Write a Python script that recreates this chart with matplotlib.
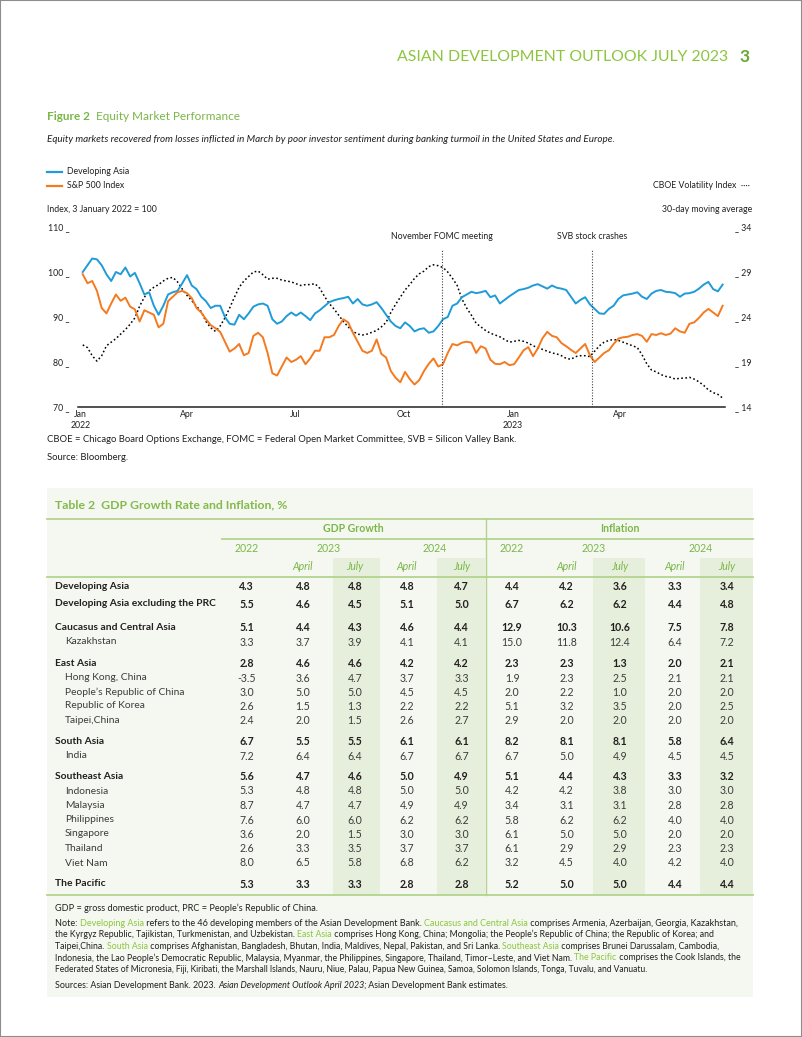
import matplotlib
matplotlib.use("Agg")
import matplotlib.pyplot as plt
from matplotlib.patches import Rectangle
from matplotlib.lines import Line2D
import pandas as pd

plt.rcParams['font.family'] = ['Lato', 'DejaVu Sans']

# ---- chart data (one value every 4 days) ----
dates = pd.date_range('2022-01-03', periods=136, freq='4D')

dev_asia = [100, 101.5, 103, 102.8, 101.5, 99.5, 98, 100, 99.5, 101,
            99, 99.8, 97.5, 95, 95.5, 92.5, 90.5, 92.5, 95, 95.5,
            95.8, 97.5, 99.3, 97, 96.2, 94.5, 93.5, 92, 92.5, 92.5,
            90, 88.5, 88.3, 90.5, 89.5, 90.8, 92.3, 92.8, 93, 92.5,
            89.5, 88.5, 89, 90.2, 91, 90.3, 91, 90.2, 89.3, 90.8,
            91.5, 92.4, 93.3, 93.7, 94, 94.2, 94.5, 93, 94, 92.8,
            92.5, 92.8, 93.3, 92, 90.5, 89, 88, 87.5, 88.8, 88,
            86.8, 87.3, 87.5, 86.5, 86.8, 88, 89.5, 90, 92.5, 93,
            94.4, 95, 95.6, 95.3, 95.5, 95.8, 94.4, 94.8, 93, 93.8,
            94.6, 95.3, 96, 96.2, 96.5, 97, 97.3, 96.8, 96.3, 97,
            96.5, 96.3, 96, 94.5, 93, 93.8, 94.4, 92.8, 91.8, 90.8,
            90.7, 91.8, 92.5, 94, 94.8, 95, 95.2, 95.5, 94.5, 94,
            95.2, 95.8, 96, 95.6, 95.5, 95.3, 94.5, 95.2, 95.3, 95.6,
            96.3, 97.2, 97.8, 96.2, 95.7, 97.2]

sp500 = [99.5, 97.5, 98, 95.8, 92, 90.8, 93, 95, 93.6, 94.3,
         92.3, 91.7, 89, 91.5, 91, 90.5, 87.7, 88.5, 93.5, 94.5,
         95.5, 95.8, 95.3, 94.2, 92, 91, 89.5, 88.2, 87.5, 86.7,
         84.5, 82.3, 83, 84, 81.5, 82, 85.8, 86.5, 85.5, 82,
         77.5, 77, 79, 81, 80, 80.5, 81.3, 79.5, 80.8, 82.5,
         82.5, 85.5, 85.5, 86, 88, 89.5, 88.8, 86.5, 84.5, 82.5,
         82, 82.5, 85, 81.8, 81, 78, 76.5, 75.5, 77.8, 76.2,
         75, 76, 78, 79.6, 80.8, 79, 79.5, 82, 84, 83.7,
         84.3, 84.5, 84.3, 82, 83.5, 83, 80.5, 79.6, 79.5, 80,
         79.3, 79.5, 81, 82.6, 83.3, 81.3, 83, 85.3, 86.7, 85.8,
         85.5, 84.2, 83.5, 82.7, 82, 83, 84, 81.5, 80, 81,
         82, 82.6, 84, 85.2, 85.5, 85.6, 86, 86.2, 85.8, 84.5,
         86.2, 86, 86.4, 86, 86.3, 87.5, 86.8, 86.5, 88.5, 88.8,
         89.8, 91, 91.8, 91, 90.2, 92.5]

vix_ma = [20.9, 20.6, 19.7, 19.1, 19.7, 20.8, 21.2, 21.6, 22.1, 22.6,
          23.2, 23.9, 25.2, 26.2, 26.9, 27.3, 27.6, 28, 28.3, 28.4,
          27.9, 27.1, 26.4, 25.8, 25.2, 24.6, 23.5, 22.8, 22.4, 23,
          23.9, 25, 26.2, 27.3, 28, 28.5, 29, 29.1, 28.7, 28.2,
          28.3, 28.3, 28.1, 28, 27.9, 27.7, 27.5, 27.6, 27.6, 27.7,
          27.2, 26.3, 25.5, 24.9, 24.2, 23.5, 22.9, 22.4, 22.1, 22,
          22.1, 22.3, 22.5, 22.9, 23.4, 24.5, 25.4, 26.2, 27, 27.6,
          28.3, 28.8, 29.1, 29.6, 29.8, 29.7, 29.5, 29, 28.3, 27.5,
          26, 25, 24.2, 23.3, 22.9, 22.5, 22.2, 22, 21.8, 21.5,
          21.2, 21.3, 21.4, 21.3, 21.1, 20.8, 20.6, 20.4, 20.2, 20,
          19.9, 19.7, 19.4, 19.3, 19.6, 19.7, 19.7, 19.6, 20.2, 20.8,
          21.2, 21.4, 21.5, 21.4, 21.2, 21, 20.8, 20.6, 19.8, 18.8,
          18.1, 17.9, 17.6, 17.4, 17.3, 17.1, 17.2, 17.2, 17.3, 17.1,
          16.8, 16.4, 15.9, 15.6, 15.4, 15]

events = ['2022-11-02', '2023-03-09']
event_names = ['November FOMC meeting', 'SVB stock crashes']

left_ticks = [70, 80, 90, 100, 110]
right_ticks = [14, 19, 24, 29, 34]
x_ticks = ['2022-01-01', '2022-04-01', '2022-07-01', '2022-10-01', '2023-01-01', '2023-04-01']
x_labels = ['Jan\n2022', 'Apr', 'Jul', 'Oct', 'Jan\n2023', 'Apr']

# ---- table data ----
rows = ['Developing Asia', 'Developing Asia excluding the PRC',
        'Caucasus and Central Asia', 'Kazakhstan',
        'East Asia', 'Hong Kong, China', "People\u2019s Republic of China",
        'Republic of Korea', 'Taipei,China',
        'South Asia', 'India',
        'Southeast Asia', 'Indonesia', 'Malaysia', 'Philippines',
        'Singapore', 'Thailand', 'Viet Nam',
        'The Pacific']
bold_rows = [1, 1, 1, 0, 1, 0, 0, 0, 0, 1, 0, 1, 0, 0, 0, 0, 0, 0, 1]
gdp = [['4.3', '4.8', '4.8', '4.8', '4.7'],
       ['5.5', '4.6', '4.5', '5.1', '5.0'],
       ['5.1', '4.4', '4.3', '4.6', '4.4'],
       ['3.3', '3.7', '3.9', '4.1', '4.1'],
       ['2.8', '4.6', '4.6', '4.2', '4.2'],
       ['-3.5', '3.6', '4.7', '3.7', '3.3'],
       ['3.0', '5.0', '5.0', '4.5', '4.5'],
       ['2.6', '1.5', '1.3', '2.2', '2.2'],
       ['2.4', '2.0', '1.5', '2.6', '2.7'],
       ['6.7', '5.5', '5.5', '6.1', '6.1'],
       ['7.2', '6.4', '6.4', '6.7', '6.7'],
       ['5.6', '4.7', '4.6', '5.0', '4.9'],
       ['5.3', '4.8', '4.8', '5.0', '5.0'],
       ['8.7', '4.7', '4.7', '4.9', '4.9'],
       ['7.6', '6.0', '6.0', '6.2', '6.2'],
       ['3.6', '2.0', '1.5', '3.0', '3.0'],
       ['2.6', '3.3', '3.5', '3.7', '3.7'],
       ['8.0', '6.5', '5.8', '6.8', '6.2'],
       ['5.3', '3.3', '3.3', '2.8', '2.8']]
inflation = [['4.4', '4.2', '3.6', '3.3', '3.4'],
             ['6.7', '6.2', '6.2', '4.4', '4.8'],
             ['12.9', '10.3', '10.6', '7.5', '7.8'],
             ['15.0', '11.8', '12.4', '6.4', '7.2'],
             ['2.3', '2.3', '1.3', '2.0', '2.1'],
             ['1.9', '2.3', '2.5', '2.1', '2.1'],
             ['2.0', '2.2', '1.0', '2.0', '2.0'],
             ['5.1', '3.2', '3.5', '2.0', '2.5'],
             ['2.9', '2.0', '2.0', '2.0', '2.0'],
             ['8.2', '8.1', '8.1', '5.8', '6.4'],
             ['6.7', '5.0', '4.9', '4.5', '4.5'],
             ['5.1', '4.4', '4.3', '3.3', '3.2'],
             ['4.2', '4.2', '3.8', '3.0', '3.0'],
             ['3.4', '3.1', '3.1', '2.8', '2.8'],
             ['5.8', '6.2', '6.2', '4.0', '4.0'],
             ['6.1', '5.0', '5.0', '2.0', '2.0'],
             ['6.1', '2.9', '2.9', '2.3', '2.3'],
             ['3.2', '4.5', '4.0', '4.2', '4.0'],
             ['5.2', '5.0', '5.0', '4.4', '4.4']]

W, H = 802, 1037
BLUE = '#1f9bd7'
ORANGE = '#f47a20'
GREEN = '#7ab648'
LGREEN = '#8cc63f'
LINEG = '#b3d48f'
TXT = '#231f20'


def fx(x):
    return x / W


def fy(y):
    return 1 - y / H


def ftext(x, y, s, **kw):
    kw.setdefault('va', 'center')
    kw.setdefault('color', TXT)
    return fig.text(fx(x), fy(y), s, **kw)


fig = plt.figure(figsize=(W / 100, H / 100), dpi=100)
renderer = fig.canvas.get_renderer()


def width_px(s, **kw):
    # measure with guard glyphs so leading/trailing spaces count
    t = fig.text(0, 0, 'x' + s + 'x', **kw)
    t2 = fig.text(0, 0, 'xx', **kw)
    w = t.get_window_extent(renderer).width - t2.get_window_extent(renderer).width
    t.remove()
    t2.remove()
    return w


def runs(x, y, parts, size, right=None):
    # parts: (text, color, style); if right given, fit font so the line ends there
    if right is not None:
        total = sum(width_px(s, fontsize=size, style=st) for s, c, st in parts)
        size = size * (right - x) / total
    for s, c, st in parts:
        ftext(x, y, s, fontsize=size, color=c, style=st)
        x += width_px(s, fontsize=size, style=st)


# page frame
fig.patches.append(Rectangle((0, 0), 1, 1, transform=fig.transFigure, fill=False,
                             edgecolor='#8c8c8c', lw=1.5))

# running header
ftext(728, 57, 'ASIAN DEVELOPMENT OUTLOOK JULY 2023', ha='right', fontsize=11.4,
      color=LGREEN)
ftext(745, 57, '3', ha='center', fontsize=12.5, color='#6aa832', fontweight='bold')

# figure title
ftext(47, 117, 'Figure 2', fontsize=8.5, color=GREEN, fontweight='bold')
ftext(47 + width_px('Figure 2  ', fontsize=8.5, fontweight='bold'), 117,
      'Equity Market Performance', fontsize=8.5, color=GREEN)
ftext(47, 140, 'Equity markets recovered from losses inflicted in March by poor investor '
      'sentiment during banking turmoil in the United States and Europe.',
      fontsize=7.1, style='italic')

# legend
fig.lines.append(Line2D([fx(47), fx(62)], [fy(172), fy(172)], transform=fig.transFigure,
                        color=BLUE, lw=1.6))
fig.lines.append(Line2D([fx(47), fx(62)], [fy(186), fy(186)], transform=fig.transFigure,
                        color=ORANGE, lw=1.6))
ftext(67, 172, 'Developing Asia', fontsize=6.3)
ftext(67, 186, 'S&P 500 Index', fontsize=6.3)
ftext(750, 186, 'CBOE Volatility Index  \u00b7\u00b7\u00b7\u00b7', ha='right', fontsize=6.3)
ftext(47, 209, 'Index, 3 January 2022 = 100', fontsize=6.3)
ftext(752, 209, '30-day moving average', ha='right', fontsize=6.3)

# chart
ax = fig.add_axes([fx(78), fy(407), (725 - 78) / W, (407 - 227) / H])
ax2 = ax.twinx()
ax.set_zorder(ax2.get_zorder() + 1)
ax.patch.set_visible(False)

ax2.plot(dates, vix_ma, color='black', lw=1.1, ls=(0, (1.1, 1.6)))
ax.plot(dates, dev_asia, color=BLUE, lw=1.4)
ax.plot(dates, sp500, color=ORANGE, lw=1.4)

for d, name in zip(events, event_names):
    ax.axvline(pd.Timestamp(d), ymin=0, ymax=(407 - 250) / 180, color='#444444',
               lw=0.8, ls=(0, (1, 1.5)))
    ax.text(pd.Timestamp(d), (407 - 237) / 180, name, transform=ax.get_xaxis_transform(),
            ha='center', va='center', fontsize=6.3, color=TXT)

ax.set_xlim(pd.Timestamp('2021-12-30'), pd.Timestamp('2023-06-29'))
ax.set_ylim(70, 110)
ax2.set_ylim(14, 34)
ax.set_yticks(left_ticks)
ax.set_yticklabels([f'{v} _' for v in left_ticks])
ax2.set_yticks(right_ticks)
ax2.set_yticklabels([f'_ {v}' for v in right_ticks])
ax.set_xticks([pd.Timestamp(t) for t in x_ticks])
ax.set_xticklabels(x_labels, linespacing=1.25)
ax.tick_params(axis='y', length=0, pad=6, labelsize=6.3, labelcolor=TXT)
ax2.tick_params(axis='y', length=0, pad=7, labelsize=6.3, labelcolor=TXT)
ax.tick_params(axis='x', length=0, pad=2, labelsize=6.3, labelcolor=TXT)
for a in (ax, ax2):
    for s in ['top', 'left', 'right', 'bottom']:
        a.spines[s].set_visible(False)
ax.spines['bottom'].set_visible(True)
ax.spines['bottom'].set_linewidth(1.1)
ax.spines['bottom'].set_color('#222222')

ftext(47, 440, 'CBOE = Chicago Board Options Exchange, FOMC = Federal Open Market Committee, '
      'SVB = Silicon Valley Bank.', fontsize=6.8)
ftext(47, 457, 'Source: Bloomberg.', fontsize=6.8)

# ---- table ----
fig.patches.append(Rectangle((fx(47), fy(997)), (753 - 47) / W, (997 - 488) / H,
                             transform=fig.transFigure, facecolor='#f5f8f1',
                             edgecolor='none', zorder=0))
ftext(55, 505, 'Table 2  GDP Growth Rate and Inflation, %', fontsize=8.8, color='#84b94c',
      fontweight='bold')

shade = [(333, 380), (437, 485), (593, 645), (700, 753)]
for x0, x1 in shade:
    fig.patches.append(Rectangle((fx(x0), fy(895)), (x1 - x0) / W, (895 - 558) / H,
                                 transform=fig.transFigure, facecolor='#e6efdb',
                                 edgecolor='none', zorder=0))


def hline(x0, x1, y, lw=1.3):
    fig.lines.append(Line2D([fx(x0), fx(x1)], [fy(y), fy(y)], transform=fig.transFigure,
                            color=LINEG, lw=lw))


hline(47, 753, 519)
hline(222, 753, 539)
hline(47, 753, 577)
hline(47, 753, 895)
fig.lines.append(Line2D([fx(486), fx(486)], [fy(519), fy(895)], transform=fig.transFigure,
                        color=LINEG, lw=1.0))

col_x = [246.5, 303, 355, 407, 461.5, 512, 566.5, 620, 675, 727]
hdr = dict(fontsize=7.6, color=GREEN, ha='center')
ftext(353, 529, 'GDP Growth', fontweight='bold', **hdr)
ftext(620, 529, 'Inflation', fontweight='bold', **hdr)
for base in (0, 5):
    ftext(col_x[base], 548, '2022', **hdr)
    ftext((col_x[base + 1] + col_x[base + 2]) / 2, 548, '2023', **hdr)
    ftext((col_x[base + 3] + col_x[base + 4]) / 2, 548, '2024', **hdr)
    for j, lab in zip(range(1, 5), ['April', 'July', 'April', 'July']):
        ftext(col_x[base + j], 567, lab, style='italic', **hdr)

row_y = [586.5, 604, 627.5, 642, 663.5, 678, 692, 706, 720.5, 741.5, 756,
         776.5, 791, 805.5, 820, 834, 848.5, 863, 884]
for i, name in enumerate(rows):
    y = row_y[i]
    b = bold_rows[i]
    fw = 'bold' if b else 'normal'
    col = TXT if b else '#3c3c3c'
    ftext(55 if b else 65, y, name, fontsize=7.4, fontweight=fw, color=col)
    vals = gdp[i] + inflation[i]
    for j, v in enumerate(vals):
        ftext(col_x[j], y, v, fontsize=7.6, fontweight=fw, color=col, ha='center')

# notes
ns = 6.6
ftext(55, 908, 'GDP = gross domestic product, PRC = People\u2019s Republic of China.', fontsize=ns)
note_lines = [
    [('Note: ', TXT, 'normal'), ('Developing Asia', LGREEN, 'normal'),
     (' refers to the 46 developing members of the Asian Development Bank. ', TXT, 'normal'),
     ('Caucasus and Central Asia', LGREEN, 'normal'),
     (' comprises Armenia, Azerbaijan, Georgia, Kazakhstan,', TXT, 'normal')],
    [('the Kyrgyz Republic, Tajikistan, Turkmenistan, and Uzbekistan. ', TXT, 'normal'),
     ('East Asia', LGREEN, 'normal'),
     (' comprises Hong Kong, China; Mongolia; the People\u2019s Republic of China; the Republic of Korea; and',
      TXT, 'normal')],
    [('Taipei,China. ', TXT, 'normal'), ('South Asia', LGREEN, 'normal'),
     (' comprises Afghanistan, Bangladesh, Bhutan, India, Maldives, Nepal, Pakistan, and Sri Lanka. ',
      TXT, 'normal'),
     ('Southeast Asia', LGREEN, 'normal'),
     (' comprises Brunei Darussalam, Cambodia,', TXT, 'normal')],
    [('Indonesia, the Lao People\u2019s Democratic Republic, Malaysia, Myanmar, the Philippines, '
      'Singapore, Thailand, Timor\u2013Leste, and Viet Nam. ', TXT, 'normal'),
     ('The Pacific', LGREEN, 'normal'), (' comprises the Cook Islands, the', TXT, 'normal')],
    [('Federated States of Micronesia, Fiji, Kiribati, the Marshall Islands, Nauru, Niue, Palau, '
      'Papua New Guinea, Samoa, Solomon Islands, Tonga, Tuvalu, and Vanuatu.', TXT, 'normal')],
]
line_ends = [738, 712, 715, 733, 647]
for k, parts in enumerate(note_lines):
    runs(55, 923 + k * 11.6, parts, ns, right=line_ends[k])
runs(55, 986, [('Sources: Asian Development Bank. 2023. ', TXT, 'normal'),
               ('Asian Development Outlook April 2023;', TXT, 'italic'),
               (' Asian Development Bank estimates.', TXT, 'normal')], ns, right=509)

fig.savefig('out.png', dpi=100)
